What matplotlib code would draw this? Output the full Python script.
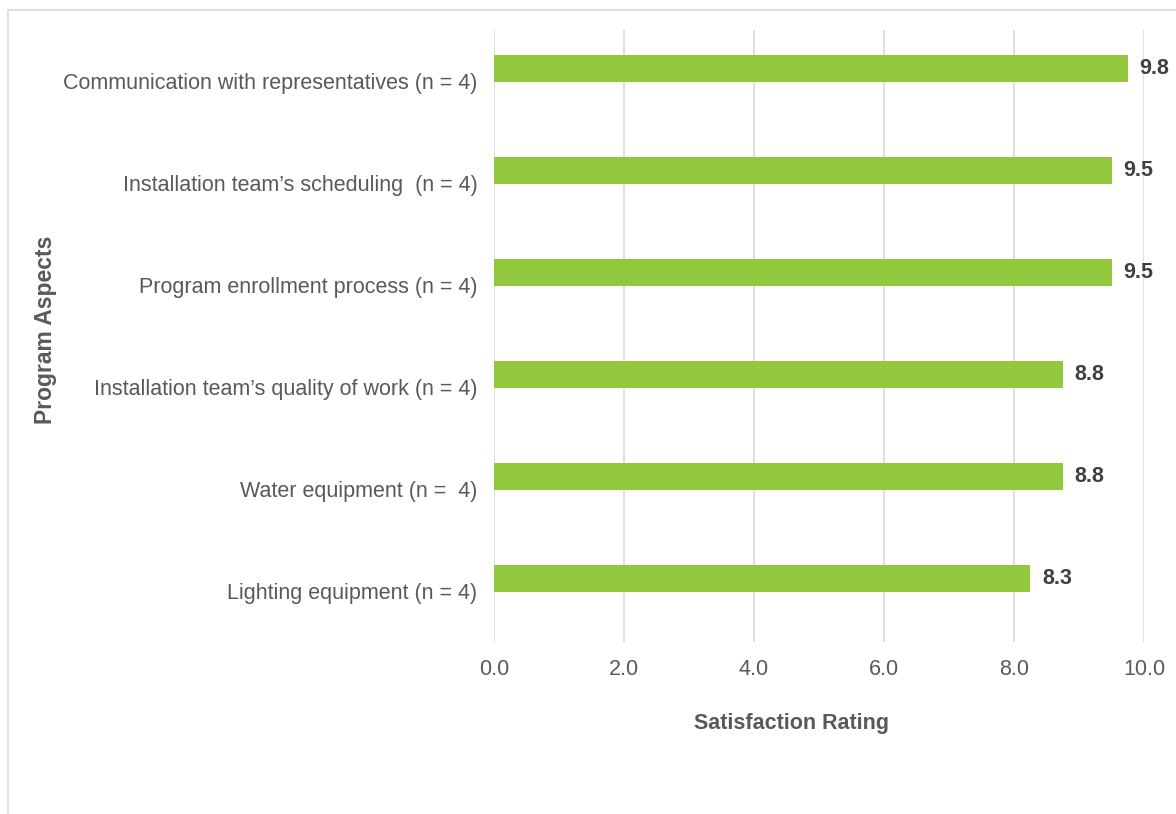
import matplotlib
matplotlib.use("Agg")
import matplotlib.pyplot as plt
from matplotlib.patches import Rectangle
from decimal import Decimal, ROUND_HALF_UP

plt.rcParams['font.family'] = ['Liberation Sans', 'DejaVu Sans']

# Program aspects, listed top to bottom
categories = [
    "Communication with representatives (n = 4)",
    "Installation team\u2019s scheduling  (n = 4)",
    "Program enrollment process (n = 4)",
    "Installation team\u2019s quality of work (n = 4)",
    "Water equipment (n =  4)",
    "Lighting equipment (n = 4)",
]
ratings = [9.75, 9.5, 9.5, 8.75, 8.75, 8.25]
x_ticks = [0, 2, 4, 6, 8, 10]

BAR = "#92C83E"
TEXT = "#595959"
VALUE = "#404040"
GRID = "#D9D9D9"
FS = 15.5
BAR_SHIFT = -0.127   # bars sit slightly above the centre of each category slot

fig = plt.figure(figsize=(11.76, 8.14), dpi=100)
fig.patch.set_facecolor("white")

# light chart-area border (top and left edges visible)
fig.add_artist(Rectangle((8 / 1176, -0.05), 1.2, (814 - 10) / 814 + 0.05,
                         transform=fig.transFigure, fill=False,
                         edgecolor="#D9D9D9", linewidth=1.2))

ax = fig.add_axes([494 / 1176, (814 - 642) / 814, 650 / 1176, 612 / 814])

pos = list(range(len(categories)))
bar_pos = [p + BAR_SHIFT for p in pos]
ax.barh(bar_pos, ratings, height=0.265, color=BAR, zorder=3)

for p, v in zip(bar_pos, ratings):
    label = str(Decimal(str(v)).quantize(Decimal("0.1"), rounding=ROUND_HALF_UP))
    ax.annotate(label, (v, p), xytext=(12, 0), textcoords="offset pixels",
                ha="left", va="center", fontsize=FS, fontweight="bold",
                color=VALUE)

ax.set_xlim(0, 10)
ax.set_ylim(len(categories) - 0.5, -0.5)
ax.set_xticks(x_ticks)
ax.set_xticklabels([f"{t:.1f}" for t in x_ticks])
ax.set_yticks(pos)
ax.set_yticklabels(categories)
ax.tick_params(axis="both", length=0, labelsize=FS, labelcolor=TEXT)
ax.tick_params(axis="y", pad=12)
ax.tick_params(axis="x", pad=12)
ax.xaxis.grid(True, color=GRID, linewidth=1.2, zorder=0)
ax.set_axisbelow(True)
for s in ax.spines.values():
    s.set_visible(False)

fig.text(792 / 1176, 1 - 723 / 814, "Satisfaction Rating", ha="center",
         va="center", fontsize=FS, fontweight="bold", color=TEXT)
fig.text(46 / 1176, 1 - 330 / 814, "Program Aspects", ha="center",
         va="center", rotation=90, fontsize=16.5, fontweight="bold", color=TEXT)

fig.savefig("out.png", dpi=100, facecolor="white")
